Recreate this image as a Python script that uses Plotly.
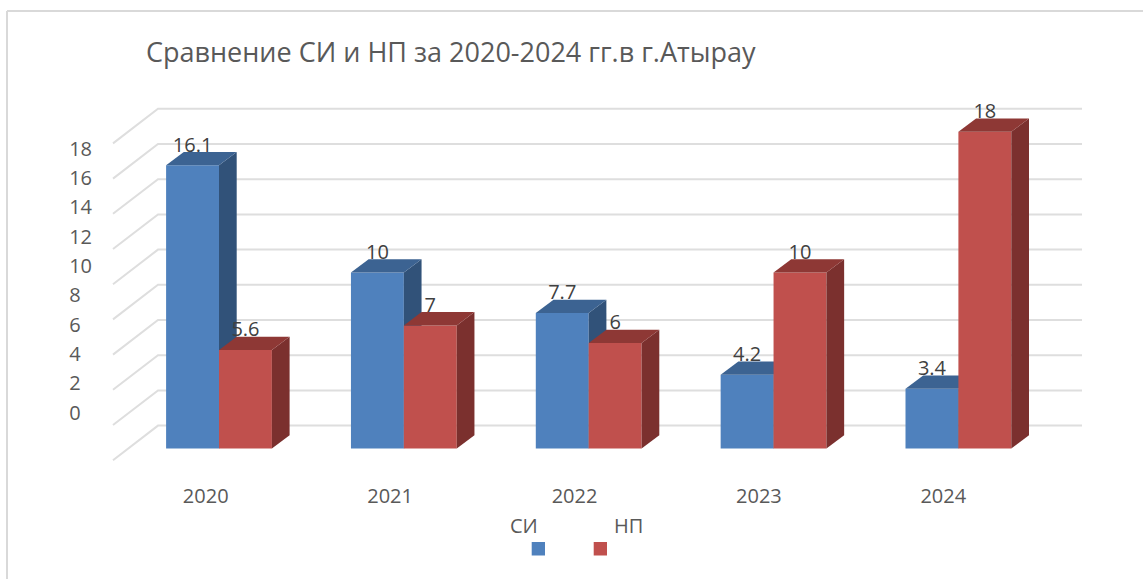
import plotly.graph_objects as go

years = ["2020", "2021", "2022", "2023", "2024"]
si_values = [16.1, 10, 7.7, 4.2, 3.4]
np_values = [5.6, 7, 6, 10, 18]
y_ticks = [0, 2, 4, 6, 8, 10, 12, 14, 16, 18]
title_text = "Сравнение СИ и НП за 2020-2024 гг.в г.Атырау"
series_names = ["СИ", "НП"]

W, H = 1143, 579
FONT = "Open Sans"
TXT = "#595959"
# world axes: x index 0 sits on the seam of the first pair of bars
PX_CAT, X0 = 184.85, 219.0
PX_UNIT, Y0 = 17.6, 448.6
BAR = 52.9 / PX_CAT
DX, DY = 17.7 / PX_CAT, 13.3 / PX_UNIT
world_x = [-X0 / PX_CAT, (W - X0) / PX_CAT]
world_y = [(Y0 - H) / PX_UNIT, Y0 / PX_UNIT]
GRID_L, GRID_B, GRID_R = (113 - X0) / PX_CAT, (158 - X0) / PX_CAT, (1082 - X0) / PX_CAT
WALL_UP, FRONT_DOWN = 23.0 / PX_UNIT, 11.6 / PX_UNIT
LABEL_UP = 18.6 / PX_UNIT

fig = go.Figure()
# tick-label axes (offset from the bars, as in a perspective chart)
fig.add_trace(go.Scatter(x=[None], y=[None], xaxis="x", yaxis="y", showlegend=False))

# walls: grid lines
for v in y_ticks:
    fig.add_trace(go.Scatter(
        x=[GRID_L, GRID_B, GRID_R],
        y=[v - FRONT_DOWN, v + WALL_UP, v + WALL_UP],
        mode="lines", line=dict(color="#dedede", width=2),
        xaxis="x2", yaxis="y2", showlegend=False, hoverinfo="skip"))


def solid(values, offset, front, side, top, xa, ya, name):
    fig.add_trace(go.Bar(
        x=list(range(len(values))), y=values, width=BAR, offset=offset,
        marker=dict(color=front, line=dict(width=0)), name=name,
        xaxis=xa, yaxis=ya, showlegend=False))
    for i, v in enumerate(values):
        l, r = i + offset, i + offset + BAR
        fig.add_trace(go.Scatter(
            x=[r, r + DX, r + DX, r, r], y=[0, DY, v + DY, v, 0],
            fill="toself", fillcolor=side, mode="none",
            xaxis=xa, yaxis=ya, showlegend=False, hoverinfo="skip"))
        fig.add_trace(go.Scatter(
            x=[l, l + DX, r + DX, r, l], y=[v, v + DY, v + DY, v, v],
            fill="toself", fillcolor=top, mode="none",
            xaxis=xa, yaxis=ya, showlegend=False, hoverinfo="skip"))


solid(si_values, -BAR, "#4f81bd", "#315279", "#3c6392", "x3", "y3", series_names[0])
solid(np_values, 0, "#c0504d", "#7b302e", "#8e3835", "x4", "y4", series_names[1])

# data labels
for values, off in ((si_values, -BAR / 2), (np_values, BAR / 2)):
    fig.add_trace(go.Scatter(
        x=[i + off for i in range(len(values))],
        y=[v + LABEL_UP for v in values],
        text=[str(v) for v in values], mode="text", textposition="middle center",
        textfont=dict(family=FONT, size=20, color="#404040"),
        xaxis="x4", yaxis="y4", showlegend=False, hoverinfo="skip"))

overlay = dict(visible=False, fixedrange=True)
fig.update_layout(
    width=W, height=H, margin=dict(l=0, r=0, t=0, b=0), autosize=False,
    paper_bgcolor="white", plot_bgcolor="rgba(0,0,0,0)", showlegend=False,
    barmode="overlay",
    title=dict(text=title_text, x=146 / W, xanchor="left", y=1 - 53 / H, yanchor="middle",
               font=dict(family=FONT, size=27, color=TXT), pad=dict(l=0, r=0, t=0, b=0)),
    xaxis=dict(range=[-205.7 / 184.4, (W - 205.7) / 184.4], tickmode="array",
               tickvals=list(range(len(years))), ticktext=years, showgrid=False,
               zeroline=False, showline=False, ticks="", anchor="free", position=1 - 482 / H,
               tickfont=dict(family=FONT, size=20, color=TXT), fixedrange=True),
    yaxis=dict(range=[(412.7 - H) / 14.67, 412.7 / 14.67], tickmode="array",
               tickvals=y_ticks,
               ticktext=[(str(t) if t >= 10 else str(t) + "\u2007") for t in y_ticks],
               showgrid=False, zeroline=False, showline=False, ticks="",
               anchor="free", position=92 / W,
               tickfont=dict(family=FONT, size=20, color=TXT), fixedrange=True),
    shapes=[
        dict(type="line", xref="paper", yref="paper", x0=7 / W, x1=1, y0=1 - 11 / H, y1=1 - 11 / H,
             line=dict(color="#d9d9d9", width=2)),
        dict(type="line", xref="paper", yref="paper", x0=7 / W, x1=7 / W, y0=0, y1=1 - 11 / H,
             line=dict(color="#d9d9d9", width=2)),
        dict(type="rect", xref="paper", yref="paper", x0=531.7 / W, x1=545 / W,
             y0=1 - 555.5 / H, y1=1 - 542 / H, fillcolor="#4f81bd", line=dict(width=0)),
        dict(type="rect", xref="paper", yref="paper", x0=593.7 / W, x1=607 / W,
             y0=1 - 555.5 / H, y1=1 - 542 / H, fillcolor="#c0504d", line=dict(width=0)),
    ],
    annotations=[
        dict(text=series_names[0], xref="paper", yref="paper", x=524 / W, y=1 - 525 / H,
             showarrow=False, xanchor="center", yanchor="middle",
             font=dict(family=FONT, size=20, color=TXT)),
        dict(text=series_names[1], xref="paper", yref="paper", x=628 / W, y=1 - 525 / H,
             showarrow=False, xanchor="center", yanchor="middle",
             font=dict(family=FONT, size=20, color=TXT)),
    ],
)
for n in (2, 3, 4):
    fig.update_layout({
        f"xaxis{n}": dict(overlaying="x", range=world_x, anchor=f"y{n}", **overlay),
        f"yaxis{n}": dict(overlaying="y", range=world_y, anchor=f"x{n}", **overlay),
    })

fig.write_html("out.html", config={"displayModeBar": False},
               post_script="document.body.style.margin='0';document.body.style.overflow='hidden';")
